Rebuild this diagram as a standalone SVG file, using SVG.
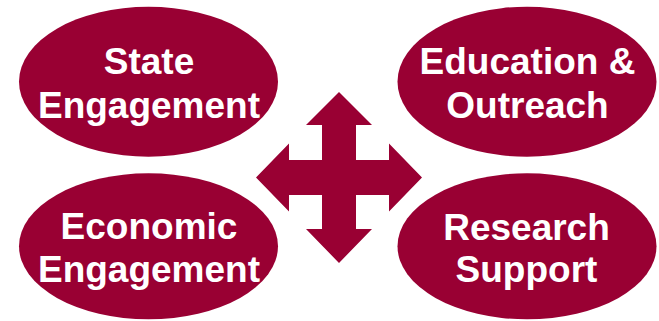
<svg xmlns="http://www.w3.org/2000/svg" width="659" height="321" viewBox="0 0 659 321">
<style>
.n{fill:#990033}
.t{fill:#ffffff;font-family:"Liberation Sans",Arial,sans-serif;font-weight:bold;font-size:37px;text-anchor:middle}
</style>
<rect width="659" height="321" fill="#ffffff"/>
<g id="connectors">
<polygon class="n" points="339,92 372,125 356,125 356,160 389,160 389,143.5 422,177.5 389,211.5 389,195 356,195 356,229 372,229 339,263 306,229 322,229 322,195 289,195 289,211.5 256,177.5 289,143.5 289,160 322,160 322,125 306,125"/>
</g>
<g id="state-engagement">
<ellipse class="n" cx="148.5" cy="81.7" rx="129.5" ry="75"/>
<text class="t" x="149" y="74">State</text>
<text class="t" x="149" y="118">Engagement</text>
</g>
<g id="education-outreach">
<ellipse class="n" cx="527" cy="81.7" rx="129.5" ry="75"/>
<text class="t" x="527.5" y="73.5">Education &amp;</text>
<text class="t" x="527.5" y="118">Outreach</text>
</g>
<g id="economic-engagement">
<ellipse class="n" cx="148.5" cy="246.3" rx="129.5" ry="73"/>
<text class="t" x="149" y="238.5">Economic</text>
<text class="t" x="149" y="282">Engagement</text>
</g>
<g id="research-support">
<ellipse class="n" cx="527" cy="246.3" rx="129.5" ry="73"/>
<text class="t" x="526.5" y="239.5">Research</text>
<text class="t" x="526.5" y="282">Support</text>
</g>
</svg>
